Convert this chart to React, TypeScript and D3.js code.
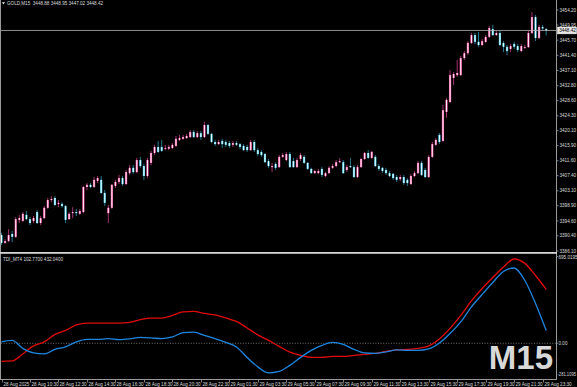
import React, { useEffect, useRef } from "react";
import * as d3 from "d3";

const W = 577;
const H = 387;

// GOLD M15 bars, [open, high, low, close], 28 Aug 08:30 .. 29 Aug 23:45
const ohlc: number[][] = [
  [3390.6, 3391.2, 3387.8, 3388.4], [3388.4, 3389.5, 3388.1, 3388.9], [3388.9, 3392.3, 3388.6, 3390.6],
  [3390.9, 3391.8, 3388.6, 3390.1], [3390.1, 3395.7, 3389.8, 3395.1], [3394.9, 3396.3, 3394.0, 3395.4],
  [3394.6, 3397.1, 3394.3, 3396.6], [3396.3, 3397.4, 3394.9, 3395.1], [3395.1, 3395.7, 3393.4, 3394.0],
  [3394.6, 3396.0, 3394.0, 3395.4], [3397.1, 3397.7, 3393.7, 3394.0], [3394.0, 3396.0, 3393.4, 3395.4],
  [3395.4, 3398.8, 3395.1, 3398.3], [3398.3, 3401.1, 3398.0, 3400.5], [3400.5, 3401.6, 3399.9, 3400.8],
  [3401.1, 3401.6, 3398.8, 3399.1], [3399.4, 3400.5, 3398.5, 3399.7], [3399.4, 3399.9, 3398.3, 3398.8],
  [3398.8, 3399.1, 3394.0, 3394.9], [3395.1, 3397.1, 3394.9, 3396.6], [3396.8, 3398.5, 3395.4, 3397.1],
  [3397.1, 3398.0, 3396.0, 3396.8], [3396.6, 3398.0, 3396.3, 3397.4], [3397.1, 3404.5, 3396.8, 3404.2],
  [3404.2, 3405.3, 3403.3, 3404.8], [3404.8, 3405.3, 3403.9, 3404.2], [3404.2, 3407.0, 3403.9, 3406.2],
  [3405.9, 3407.3, 3405.3, 3406.7], [3406.2, 3407.3, 3402.2, 3402.5], [3402.5, 3403.3, 3398.8, 3399.7],
  [3396.8, 3399.1, 3394.0, 3398.3], [3398.3, 3405.0, 3398.0, 3404.8], [3404.5, 3406.2, 3403.9, 3405.6],
  [3405.6, 3407.6, 3405.0, 3406.7], [3406.7, 3407.3, 3404.5, 3405.0], [3405.0, 3409.0, 3404.8, 3408.4],
  [3408.1, 3410.4, 3407.6, 3409.6], [3409.6, 3410.4, 3407.9, 3408.4], [3408.4, 3412.4, 3408.1, 3411.8],
  [3411.8, 3412.7, 3409.6, 3410.1], [3410.1, 3410.7, 3406.2, 3407.3], [3407.3, 3412.4, 3406.7, 3411.8],
  [3411.0, 3414.4, 3410.4, 3413.8], [3413.8, 3416.1, 3413.2, 3415.5], [3415.5, 3417.2, 3413.8, 3414.1],
  [3415.5, 3417.5, 3414.1, 3414.4], [3415.2, 3416.1, 3414.6, 3415.2], [3415.0, 3416.1, 3414.6, 3415.5],
  [3415.2, 3416.6, 3414.9, 3416.1], [3415.8, 3418.6, 3415.5, 3417.8], [3417.5, 3418.9, 3417.2, 3418.0],
  [3417.8, 3418.9, 3417.5, 3418.3], [3418.0, 3419.2, 3417.8, 3418.6], [3418.3, 3420.3, 3418.0, 3419.7],
  [3419.7, 3420.3, 3418.0, 3418.3], [3418.3, 3420.0, 3418.0, 3419.4], [3419.4, 3420.0, 3417.5, 3418.3],
  [3418.3, 3422.6, 3418.0, 3421.7], [3421.7, 3422.0, 3418.9, 3419.2], [3419.2, 3419.4, 3416.6, 3416.9],
  [3416.9, 3417.5, 3415.8, 3416.3], [3416.3, 3417.5, 3416.1, 3416.9], [3417.2, 3417.8, 3415.2, 3416.3],
  [3416.9, 3417.5, 3415.5, 3416.1], [3416.6, 3417.2, 3415.2, 3415.8], [3416.1, 3417.2, 3415.5, 3416.6],
  [3416.6, 3417.2, 3415.8, 3416.1], [3416.3, 3416.6, 3414.9, 3415.5], [3415.8, 3416.3, 3414.4, 3414.6],
  [3415.5, 3416.1, 3414.1, 3414.6], [3414.6, 3417.5, 3414.4, 3416.9], [3416.9, 3417.5, 3414.1, 3414.6],
  [3414.6, 3415.2, 3412.9, 3413.5], [3414.1, 3414.6, 3412.7, 3413.2], [3413.5, 3413.8, 3411.0, 3411.2],
  [3411.5, 3412.1, 3409.6, 3410.1], [3409.8, 3411.0, 3408.4, 3410.1], [3410.7, 3411.2, 3409.0, 3409.6],
  [3409.8, 3413.2, 3409.6, 3412.7], [3412.7, 3413.8, 3412.4, 3413.2], [3411.8, 3414.1, 3411.5, 3413.5],
  [3413.5, 3414.1, 3409.6, 3409.8], [3411.5, 3412.4, 3409.6, 3409.8], [3409.8, 3412.4, 3409.6, 3411.8],
  [3412.1, 3413.8, 3411.5, 3413.2], [3412.7, 3413.2, 3410.7, 3411.0], [3411.0, 3411.2, 3409.0, 3409.3],
  [3409.3, 3409.6, 3407.9, 3408.1], [3408.1, 3409.0, 3407.9, 3408.7], [3408.1, 3409.3, 3407.9, 3408.7],
  [3409.3, 3409.8, 3407.0, 3407.6], [3407.3, 3408.4, 3407.0, 3408.1], [3408.1, 3410.1, 3407.9, 3409.6],
  [3409.6, 3410.7, 3409.3, 3410.1], [3410.1, 3411.8, 3409.8, 3411.2], [3411.2, 3412.4, 3411.0, 3411.5],
  [3411.2, 3411.8, 3407.9, 3408.1], [3409.0, 3410.4, 3408.4, 3409.8], [3410.1, 3412.4, 3409.6, 3409.8],
  [3409.8, 3410.4, 3406.7, 3407.0], [3407.0, 3410.4, 3406.7, 3409.8], [3409.8, 3412.4, 3409.6, 3412.1],
  [3412.1, 3414.1, 3411.8, 3413.8], [3413.8, 3414.6, 3412.1, 3412.4], [3412.4, 3414.4, 3412.1, 3414.1],
  [3412.7, 3413.2, 3409.8, 3410.1], [3410.1, 3410.7, 3408.7, 3409.3], [3409.6, 3409.8, 3408.1, 3408.7],
  [3409.0, 3409.6, 3407.6, 3408.1], [3408.1, 3408.7, 3407.0, 3407.3], [3407.9, 3408.1, 3406.2, 3406.7],
  [3407.0, 3407.6, 3405.6, 3406.2], [3406.4, 3407.6, 3405.9, 3407.0], [3407.0, 3407.6, 3404.8, 3405.3],
  [3406.2, 3406.7, 3404.5, 3405.3], [3405.0, 3407.9, 3404.8, 3407.3], [3407.3, 3408.7, 3407.0, 3408.1],
  [3408.1, 3411.5, 3407.9, 3411.0], [3411.0, 3411.5, 3407.3, 3407.6], [3409.0, 3409.6, 3406.7, 3407.0],
  [3407.0, 3413.2, 3406.7, 3412.7], [3412.7, 3416.9, 3412.4, 3416.3], [3416.1, 3418.0, 3415.8, 3417.5],
  [3418.9, 3419.4, 3416.3, 3416.9], [3417.2, 3427.4, 3416.9, 3425.9], [3425.4, 3429.3, 3423.7, 3428.8],
  [3428.2, 3437.2, 3427.9, 3435.8], [3435.0, 3436.7, 3433.0, 3436.1], [3435.8, 3440.1, 3435.3, 3436.4],
  [3435.8, 3441.2, 3435.6, 3440.6], [3440.6, 3442.6, 3440.1, 3442.0], [3442.0, 3445.4, 3441.5, 3444.9],
  [3444.9, 3447.7, 3444.6, 3447.1], [3447.1, 3447.7, 3444.6, 3445.2], [3445.2, 3448.0, 3443.8, 3444.3],
  [3444.3, 3446.0, 3444.0, 3445.4], [3445.2, 3447.1, 3444.9, 3446.6], [3446.6, 3449.7, 3446.3, 3449.1],
  [3448.8, 3450.0, 3446.9, 3447.1], [3447.1, 3448.3, 3446.9, 3447.7], [3447.7, 3448.3, 3444.0, 3444.3],
  [3444.9, 3445.4, 3442.3, 3443.8], [3443.8, 3444.3, 3441.5, 3442.6], [3443.2, 3444.6, 3442.3, 3444.0],
  [3444.6, 3445.2, 3443.2, 3443.8], [3444.0, 3444.6, 3442.3, 3442.9], [3442.6, 3444.6, 3442.3, 3444.0],
  [3443.6, 3444.3, 3443.2, 3443.7], [3443.7, 3448.3, 3443.5, 3447.7], [3447.7, 3453.6, 3447.4, 3452.2],
  [3452.2, 3452.8, 3445.4, 3446.3], [3446.3, 3450.0, 3446.0, 3449.4], [3449.4, 3450.0, 3448.5, 3449.0],
  [3448.88, 3448.95, 3447.02, 3448.42],
];

const priceTicks = [
  3454.2, 3449.95, 3445.7, 3441.4, 3437.1, 3432.8, 3428.6, 3424.3, 3420.1,
  3415.9, 3411.6, 3407.4, 3403.1, 3398.9, 3394.6, 3390.4, 3386.1,
];
const lastPrice = 3448.42;

// [bar index, label]
const timeTicks: [number, string][] = [
  [0, "28 Aug 2025"], [8, "28 Aug 10:30"], [16, "28 Aug 12:30"], [24, "28 Aug 14:30"],
  [32, "28 Aug 16:30"], [40, "28 Aug 18:30"], [48, "28 Aug 20:30"], [56, "28 Aug 22:30"],
  [64, "29 Aug 01:30"], [72, "29 Aug 03:30"], [80, "29 Aug 05:30"], [88, "29 Aug 07:30"],
  [96, "29 Aug 09:30"], [104, "29 Aug 11:30"], [112, "29 Aug 13:30"], [120, "29 Aug 15:30"],
  [128, "29 Aug 17:30"], [136, "29 Aug 19:30"], [144, "29 Aug 21:30"], [152, "29 Aug 23:30"],
];

// TDI lines, [bar index, value]
const tdiRed: [number, number][] = [
  [0, -145], [3, -141], [6, -85], [9, -21], [12, 11], [15, 71], [18, 103], [21, 147], [24, 161],
  [27, 161], [30, 161], [33, 161], [36, 167], [39, 189], [42, 201], [45, 201], [48, 223], [51, 251],
  [54, 255], [57, 239], [60, 227], [63, 203], [66, 175], [69, 123], [72, 67], [75, 23], [78, -25],
  [81, -71], [84, -97], [87, -113], [90, -113], [93, -105], [96, -105], [99, -97], [102, -89],
  [105, -81], [108, -65], [111, -53], [114, -49], [117, -41], [120, -21], [123, 35], [126, 119],
  [129, 223], [132, 339], [135, 439], [138, 527], [141, 611], [144, 675], [147, 640], [150, 543],
  [153, 432.04],
];
const tdiBlue: [number, number][] = [
  [0, 11], [3, 23], [6, -41], [9, -77], [12, -85], [15, -49], [18, -29], [21, 11], [24, 31],
  [27, 31], [30, 37], [33, 29], [36, 35], [39, 47], [42, 43], [45, 37], [48, 51], [51, 85],
  [54, 89], [57, 63], [60, 37], [63, 7], [66, -29], [69, -113], [72, -189], [75, -237], [78, -225],
  [81, -177], [84, -113], [87, -57], [90, -17], [93, 7], [96, -9], [99, -49], [102, -77],
  [105, -81], [108, -69], [111, -53], [114, -57], [117, -57], [120, -45], [123, 3], [126, 79],
  [129, 171], [132, 291], [135, 391], [138, 487], [141, 575], [144, 603], [147, 503], [150, 319],
  [153, 102.77],
];
const tdiMax = 695.0195;
const tdiMin = -281.1095;

const FONT = "'Liberation Sans', Arial, sans-serif";
const TXT = "#dcdcdc";
const FRAME = "#9a9a9a";

export default function App() {
  const ref = useRef<SVGSVGElement>(null);

  useEffect(() => {
    const svg = d3.select(ref.current);
    svg.selectAll("*").remove();

    const plotR = 556;

    const x = d3.scaleLinear().domain([0, ohlc.length - 1]).range([1.5, 546.2]);
    const y = d3.scaleLinear().domain([3386.1, 3454.2]).range([251, 10]);
    const yi = d3.scaleLinear().domain([tdiMin, tdiMax]).range([378.4, 256.5]);

    svg.append("rect").attr("width", W).attr("height", H).attr("fill", "#000");

    const defs = svg.append("defs");
    const grad = (id, edge, mid) => {
      const g = defs.append("linearGradient").attr("id", id);
      g.append("stop").attr("offset", "0%").attr("stop-color", edge);
      g.append("stop").attr("offset", "50%").attr("stop-color", mid);
      g.append("stop").attr("offset", "100%").attr("stop-color", edge);
    };
    grad("gUp", "#f0449a", "#fff2f8");
    grad("gDn", "#3cc4e6", "#effeff");

    defs.append("clipPath").attr("id", "mainClip")
      .append("rect").attr("x", 1).attr("y", 0).attr("width", plotR - 1).attr("height", 251);

    // candles
    const cg = svg.append("g").attr("clip-path", "url(#mainClip)");
    const bars = cg.selectAll("g.c").data(ohlc).join("g").attr("class", "c");
    bars.append("line")
      .attr("x1", (d, i) => x(i)).attr("x2", (d, i) => x(i))
      .attr("y1", (d) => y(d[1])).attr("y2", (d) => y(d[2]))
      .attr("stroke", (d) => (d[3] >= d[0] ? "#a3306f" : "#23778f"))
      .attr("stroke-width", 1);
    bars.append("rect")
      .attr("x", (d, i) => x(i) - 1.1)
      .attr("width", 2.2)
      .attr("y", (d) => y(Math.max(d[0], d[3])))
      .attr("height", (d) => Math.max(0.8, Math.abs(y(d[0]) - y(d[3]))))
      .attr("fill", (d) => (d[3] >= d[0] ? "url(#gUp)" : "url(#gDn)"));

    // current price line
    svg.append("line")
      .attr("x1", 0).attr("x2", plotR)
      .attr("y1", y(lastPrice)).attr("y2", y(lastPrice))
      .attr("stroke", "#b4b4b4").attr("stroke-width", 0.8);

    // frame
    svg.append("line").attr("x1", 0.5).attr("x2", 0.5).attr("y1", 0).attr("y2", 379)
      .attr("stroke", FRAME).attr("stroke-width", 1);
    svg.append("line").attr("x1", plotR + 0.5).attr("x2", plotR + 0.5).attr("y1", 0).attr("y2", 379)
      .attr("stroke", FRAME).attr("stroke-width", 1);
    svg.append("rect").attr("x", 0).attr("y", 252).attr("width", plotR + 1).attr("height", 1.8)
      .attr("fill", "#d4d4d4");
    svg.append("line").attr("x1", 0).attr("x2", plotR + 1).attr("y1", 379.5).attr("y2", 379.5)
      .attr("stroke", FRAME).attr("stroke-width", 1);

    // price axis
    const pa = svg.append("g").attr("font-family", FONT).attr("font-size", 4.6).attr("fill", TXT);
    priceTicks.forEach((p) => {
      pa.append("line").attr("x1", plotR).attr("x2", plotR + 2.5)
        .attr("y1", y(p)).attr("y2", y(p)).attr("stroke", FRAME).attr("stroke-width", 0.8);
      pa.append("text").attr("x", plotR + 3.5).attr("y", y(p)).attr("dy", "0.35em")
        .text(p.toFixed(2));
    });
    svg.append("rect").attr("x", plotR + 1.5).attr("y", y(lastPrice) - 3.4)
      .attr("width", 19).attr("height", 6.8).attr("fill", "#e6e6e6").attr("stroke", "#fff").attr("stroke-width", 0.5);
    svg.append("text").attr("x", plotR + 3.2).attr("y", y(lastPrice)).attr("dy", "0.35em")
      .attr("font-family", FONT).attr("font-size", 4.6).attr("fill", "#000")
      .text(lastPrice.toFixed(2));

    // header
    svg.append("path").attr("d", "M2,2.2 L5,2.2 L3.5,4.6 Z").attr("fill", "#e8e8e8");
    svg.append("text").attr("x", 7).attr("y", 5.2)
      .attr("font-family", FONT).attr("font-size", 4.6).attr("fill", TXT)
      .attr("xml:space", "preserve")
      .text("GOLD,M15  3448.88 3448.95 3447.02 3448.42");

    // indicator window
    defs.append("clipPath").attr("id", "indClip")
      .append("rect").attr("x", 1).attr("y", 254).attr("width", plotR - 1).attr("height", 125);

    svg.append("line").attr("x1", 1).attr("x2", plotR).attr("y1", yi(0)).attr("y2", yi(0))
      .attr("stroke", "#8a8a8a").attr("stroke-width", 0.8).attr("stroke-dasharray", "1,1.6");

    const line = d3.line<[number, number]>()
      .x((d) => x(d[0])).y((d) => yi(d[1]))
      .curve(d3.curveMonotoneX);
    const ig = svg.append("g").attr("clip-path", "url(#indClip)");
    ig.append("path").datum(tdiRed).attr("d", line).attr("fill", "none")
      .attr("stroke", "#e00c0c").attr("stroke-width", 1.3);
    ig.append("path").datum(tdiBlue).attr("d", line).attr("fill", "none")
      .attr("stroke", "#1e86e0").attr("stroke-width", 1.3);

    svg.append("text").attr("x", 3).attr("y", 260.5)
      .attr("font-family", FONT).attr("font-size", 4.6).attr("fill", TXT)
      .text(`TDI_MT4 ${(102.77).toFixed(4)} ${(432.04).toFixed(4)}`);

    const ia = svg.append("g").attr("font-family", FONT).attr("font-size", 4.6).attr("fill", TXT);
    [tdiMax, 0].forEach((v) => {
      ia.append("text").attr("x", plotR + 2.5).attr("y", yi(v) + (v === tdiMax ? 1 : 0)).attr("dy", "0.35em")
        .text(v === 0 ? "0.00" : v.toFixed(4));
      ia.append("line").attr("x1", plotR).attr("x2", plotR + 2).attr("y1", yi(v)).attr("y2", yi(v))
        .attr("stroke", FRAME).attr("stroke-width", 0.8);
    });
    ia.append("text").attr("x", plotR + 1.5).attr("y", 374.5).attr("dy", "0.35em")
      .attr("textLength", 18.5).attr("lengthAdjust", "spacingAndGlyphs")
      .text(tdiMin.toFixed(4));

    // watermark
    svg.append("text").attr("x", 553).attr("y", 368.5).attr("text-anchor", "end")
      .attr("font-family", FONT).attr("font-weight", "bold").attr("font-size", 33)
      .attr("fill", "#d8d8d8").text("M15");

    // time axis
    const ta = svg.append("g").attr("font-family", FONT).attr("font-size", 4.6).attr("fill", TXT);
    timeTicks.forEach(([i, label]) => {
      const px = Math.round(x(i)) + 0.5;
      ta.append("line").attr("x1", px).attr("x2", px).attr("y1", 379.5).attr("y2", 382.5)
        .attr("stroke", FRAME).attr("stroke-width", 0.8);
      ta.append("text").attr("x", px + 1).attr("y", 386).text(label);
    });
  }, []);

  return (
    <svg
      ref={ref}
      width={W}
      height={H}
      style={{ position: "absolute", left: 0, top: 0, display: "block" }}
    />
  );
}
